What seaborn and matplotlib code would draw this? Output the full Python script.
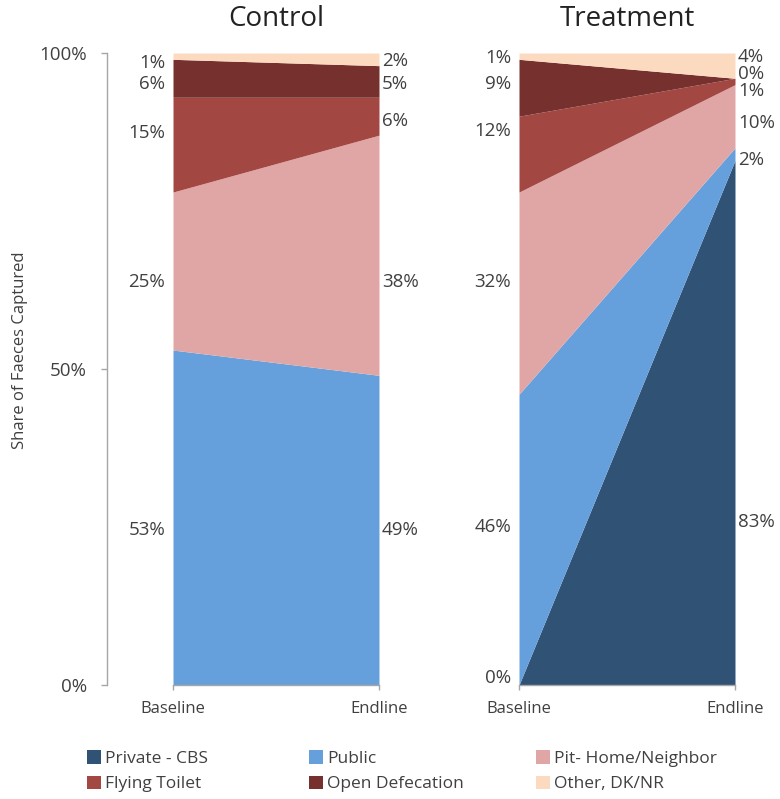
import matplotlib
matplotlib.use("Agg")
import matplotlib.pyplot as plt
import seaborn as sns
from matplotlib.patches import Patch
from matplotlib.ticker import FuncFormatter

periods = ["Baseline", "Endline"]
categories = ["Private - CBS", "Public", "Pit- Home/Neighbor",
              "Flying Toilet", "Open Defecation", "Other, DK/NR"]
colors = ["#2F5275", "#66A0DC", "#E0A6A6", "#A34743", "#76302D", "#FCDAC0"]

control_baseline = [0, 53, 25, 15, 6, 1]
control_endline = [0, 49, 38, 6, 5, 2]
treatment_baseline = [0, 46, 32, 12, 9, 1]
treatment_endline = [83, 2, 10, 1, 0, 4]

# label vertical placement (percent of axis), layout only
ctrl_base_lab_y = [None, 24.5, 63.8, 87.3, 95.1, 98.4]
ctrl_end_lab_y = [None, 24.5, 63.8, 89.2, 95.1, 98.7]
trt_base_lab_y = [1.1, 25.0, 63.8, 87.7, 95.1, 99.2]
trt_end_lab_y = [25.8, 83.0, 88.9, 94.0, 96.6, 99.3]

sns.set_theme(style="white")
plt.rcParams['font.family'] = ['Open Sans', 'DejaVu Sans']
pal = sns.color_palette(colors)

W, H = 780, 799
fig = plt.figure(figsize=(W / 100, H / 100), dpi=100)

def fbox(x0, x1, ytop, ybot):
    return [x0 / W, 1 - ybot / H, (x1 - x0) / W, (ybot - ytop) / H]

ax1 = fig.add_axes(fbox(173, 379, 53, 685))
ax2 = fig.add_axes(fbox(519, 735, 53, 685))

txt = "#404040"
spine_c = "#A6A6A6"
PX = 0.72  # points per pixel at 100 dpi

def draw(ax, base, end, lab_b, lab_e, title):
    xs = [0, 1]
    ys = [[b, e] for b, e in zip(base, end)]
    ax.stackplot(xs, *ys, colors=pal, linewidth=0)
    ax.set_xlim(0, 1)
    ax.set_ylim(0, 100)
    ax.set_xticks([0, 1])
    ax.set_xticklabels(periods, fontsize=12, color=txt)
    ax.tick_params(axis='x', bottom=True, length=5 * PX, width=1, color=spine_c, pad=11 * PX)
    for s in ["top", "right", "left"]:
        ax.spines[s].set_visible(False)
    ax.spines["bottom"].set_color(spine_c)
    ax.spines["bottom"].set_linewidth(1)
    ax.text(0.5, 1 + 34 / 632, title, transform=ax.transAxes, ha="center",
            va="center", fontsize=20, color="#222222")
    for v, y in zip(base, lab_b):
        if y is None:
            continue
        ax.annotate(f"{v}%", xy=(0, y), xytext=(-8 * PX, 0), textcoords="offset points",
                    ha="right", va="center", fontsize=13.5, color=txt,
                    annotation_clip=False)
    for v, y in zip(end, lab_e):
        if y is None:
            continue
        ax.annotate(f"{v}%", xy=(1, y), xytext=(3 * PX, 0), textcoords="offset points",
                    ha="left", va="center", fontsize=13.5, color=txt,
                    annotation_clip=False)

draw(ax1, control_baseline, control_endline, ctrl_base_lab_y, ctrl_end_lab_y, "Control")
draw(ax2, treatment_baseline, treatment_endline, trt_base_lab_y, trt_end_lab_y, "Treatment")

ax1.spines["left"].set_visible(True)
ax1.spines["left"].set_position(("outward", 66 * PX))
ax1.spines["left"].set_color(spine_c)
ax1.spines["left"].set_linewidth(1)
ax1.set_yticks([0, 50, 100])
ax1.yaxis.set_major_formatter(FuncFormatter(lambda v, p: f"{int(v)}%"))
ax1.tick_params(axis='y', left=True, length=6 * PX, width=1, color=spine_c,
                labelsize=13.5, labelcolor=txt, pad=14 * PX)
ax1.set_ylabel("Share of Faeces Captured", fontsize=12, color=txt)
ax1.yaxis.set_label_coords((28 - 173) / 206, (685 - 350) / 632)
ax2.set_yticks([])

handles = [Patch(facecolor=c, edgecolor='none', label=l) for c, l in zip(pal, categories)]
columns = [[0, 3], [1, 4], [2, 5]]
col_x = [78.5, 300.5, 527.5]
for xs_, idx in zip(col_x, columns):
    leg = fig.legend([handles[i] for i in idx], [categories[i] for i in idx],
                     ncol=1, loc="lower left", bbox_to_anchor=(xs_ / W, -2 / H),
                     frameon=False, fontsize=12.5, handlelength=0.8, handleheight=0.8,
                     handletextpad=0.25, labelspacing=0.5, borderpad=0.0,
                     labelcolor=txt)

fig.savefig("out.png", dpi=100)
